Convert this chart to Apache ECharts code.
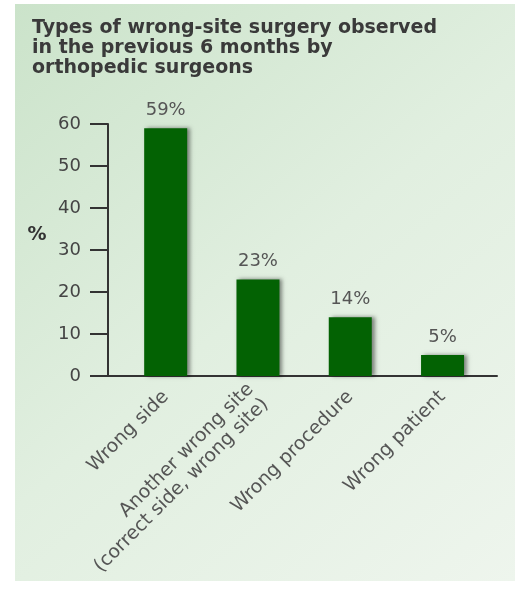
<!DOCTYPE html>
<html>
<head>
<meta charset="utf-8">
<script src="https://cdn.jsdelivr.net/npm/echarts@6/dist/echarts.min.js"></script>
<style>
html,body{margin:0;padding:0;background:#ffffff;}
#chart{width:520px;height:590px;}
</style>
</head>
<body>
<div id="chart"></div>
<script>
const titleText = 'Types of wrong-site surgery observed\nin the previous 6 months by\northopedic surgeons';
const categories = ['Wrong side', 'Another wrong site\n(correct side, wrong site)', 'Wrong procedure', 'Wrong patient'];
const percentValues = [59, 23, 14, 5];
const yTicks = [0, 10, 20, 30, 40, 50, 60];
const yAxisName = '%';

const chart = echarts.init(document.getElementById('chart'), null, {renderer: 'canvas'});
const fontFam = '"DejaVu Sans", Verdana, sans-serif';

const option = {
  backgroundColor: '#ffffff',
  animation: false,
  title: {
    text: titleText,
    left: 27,
    top: 13,
    textStyle: {
      fontFamily: fontFam,
      fontSize: 19,
      fontWeight: 'bold',
      color: '#3a3a3a',
      lineHeight: 20
    }
  },
  graphic: [{
    type: 'rect',
    z: -10,
    silent: true,
    shape: {x: 15, y: 4, width: 500, height: 577},
    style: {
      fill: new echarts.graphic.LinearGradient(0, 0, 1, 1, [
        {offset: 0, color: '#cbe3ca'},
        {offset: 0.5, color: '#e1efe0'},
        {offset: 1, color: '#eef5ed'}
      ])
    }
  }, {
    type: 'text',
    silent: true,
    x: 37,
    y: 235,
    style: {
      text: yAxisName,
      fontFamily: fontFam,
      fontSize: 19,
      fontWeight: 'bold',
      fill: '#333333',
      align: 'center',
      verticalAlign: 'middle'
    }
  }],
  grid: {left: 108, top: 124, width: 389, height: 252, containLabel: false, outerBoundsMode: 'none'},
  xAxis: {
    type: 'value',
    min: -0.625,
    max: 3.59,
    splitLine: {show: false},
    axisLine: {show: true, onZero: false, lineStyle: {color: '#333333', width: 2}},
    axisTick: {show: false},
    axisLabel: {
      customValues: categories.map((c, i) => i),
      formatter: (v) => categories[Math.round(v)] || '',
      rotate: 45,
      margin: 18,
      fontFamily: fontFam,
      fontSize: 19,
      color: '#555555',
      lineHeight: 21
    }
  },
  yAxis: {
    type: 'value',
    min: yTicks[0],
    max: yTicks[yTicks.length - 1],
    interval: 10,
    splitLine: {show: false},
    axisLine: {show: true, onZero: false, lineStyle: {color: '#333333', width: 2}},
    axisTick: {show: true, length: 18, lineStyle: {color: '#333333', width: 2}},
    axisLabel: {
      margin: 27,
      fontFamily: fontFam,
      fontSize: 18,
      color: '#444444'
    }
  },
  series: [{
    type: 'bar',
    barWidth: 43,
    data: percentValues.map((v, i) => [i, v]),
    itemStyle: {
      color: '#036203',
      shadowColor: 'rgba(0,0,0,0.45)',
      shadowBlur: 4,
      shadowOffsetX: 3,
      shadowOffsetY: 0
    },
    label: {
      show: true,
      position: 'top',
      distance: 9,
      formatter: (p) => p.value[1] + '%',
      fontFamily: fontFam,
      fontSize: 18,
      color: '#555555'
    }
  }]
};
chart.setOption(option);
</script>
</body>
</html>
